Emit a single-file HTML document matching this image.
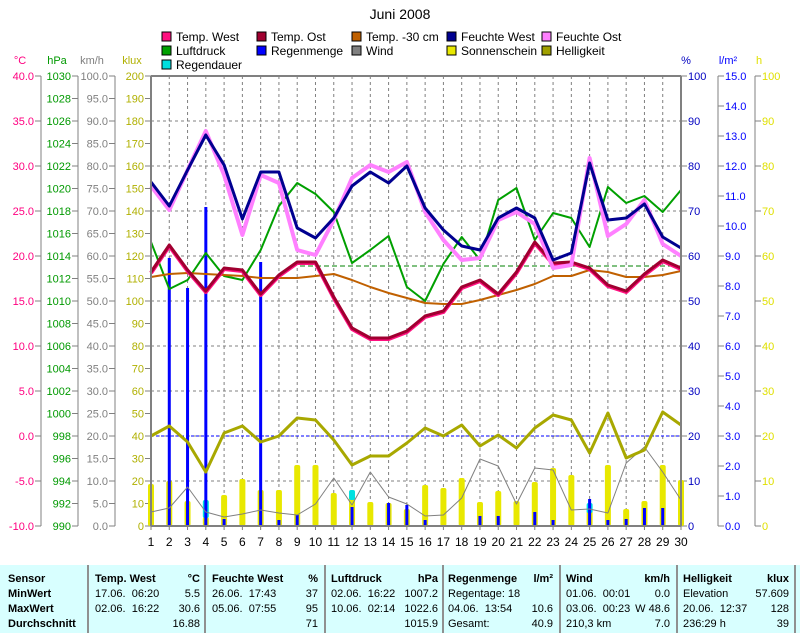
<!DOCTYPE html>
<html><head><meta charset="utf-8">
<style>
html,body{margin:0;padding:0;background:#fff;}
svg{display:block;font-family:"Liberation Sans",Arial,sans-serif;}
</style></head><body>
<svg id="s" width="800" height="633" xmlns="http://www.w3.org/2000/svg"></svg>
<script>
const S=document.getElementById('s');let h='';
const X0=151,DX=530/29,T=76,B=526;
const dx=d=>X0+(d-1)*DX;
function t(x,y,s,c,a,sz,w){h+=`<text x="${x}" y="${y}" fill="${c||'#000'}" font-size="${sz||12}" text-anchor="${a||'start'}"${w?' font-weight="bold"':''}>${s}</text>`;}
function l(x1,y1,x2,y2,c,w,da){h+=`<line x1="${x1}" y1="${y1}" x2="${x2}" y2="${y2}" stroke="${c}" stroke-width="${w||1}"${da?` stroke-dasharray="${da}"`:''}/>`;}
function pl(a,c,w){h+=`<polyline fill="none" stroke="${c}" stroke-width="${w}" stroke-linejoin="round" points="${a.map((y,i)=>dx(i+1).toFixed(1)+','+y).join(' ')}"/>`;}
// title
t(400,19,'Juni 2008','#000','middle',14);
// legend
const lg=[[162,37,'Temp. West','#ff1080'],[257,37,'Temp. Ost','#a00030'],[352,37,'Temp. -30 cm','#c06000'],[447,37,'Feuchte West','#000090'],[542,37,'Feuchte Ost','#ff80ff'],
[162,51,'Luftdruck','#00a000'],[257,51,'Regenmenge','#0000ff'],[352,51,'Wind','#808080'],[447,51,'Sonnenschein','#e8e800'],[542,51,'Helligkeit','#a0a000'],[162,65,'Regendauer','#00e0e0']];
lg.forEach(g=>{h+=`<rect x="${g[0]}" y="${g[1]-5}" width="9" height="9" fill="${g[3]}" stroke="#000" stroke-width="1"/>`;t(g[0]+14,g[1]+4,g[2]);});
// grid
for(let d=2;d<=29;d++)l(dx(d),T,dx(d),B,'#808080',1,'3,3');
for(let k=1;k<10;k++)l(X0,T+45*k,681,T+45*k,'#808080',1,'3,3');
l(X0,436,681,436,'#0000ff',1,'3,2');
l(300,266,681,266,'#008000',1,'5,3');
// axes left
const ax=[[41,'°C',20,'#ff0080',11,k=>(40-5*k).toFixed(1),45],[78,'hPa',57,'#009900',21,k=>1030-2*k,22.5],[115,'km/h',92,'#808080',21,k=>(100-5*k).toFixed(1),22.5],[151,'klux',132,'#b0b000',21,k=>200-10*k,22.5]];
ax.forEach(a=>{l(a[0],T,a[0],B,'#808080',1);t(a[2],64,a[1],a[3],'middle',11);for(let k=0;k<a[4];k++){const y=T+k*a[6];l(a[0]-6,y,a[0]+ (a[0]==151?0:0),y,'#808080',1);t(a[0]-7,y+4,a[5](k),a[3],'end',11);}});
// right axes
const ar=[[681,'%',686,'#0000c0',11,k=>100-10*k,45],[718,'l/m²',728,'#0000ff',16,k=>(15-k).toFixed(1),30],[755,'h',759,'#e0e000',11,k=>100-10*k,45]];
ar.forEach(a=>{l(a[0],T,a[0],B,'#808080',1);t(a[2],64,a[1],a[3],'middle',11);for(let k=0;k<a[4];k++){const y=T+k*a[6];l(a[0],y,a[0]+6,y,'#808080',1);t(a[0]+7,y+4,a[5](k),a[3],'start',11);}});
// sunshine bars
const sun=[484,481,501,517,495,479,490,490,465,465,493,495,502,503,509,485,488,478,502,491,501,482,468,475,510,465,509,501,465,480];
sun.forEach((y,i)=>{h+=`<rect x="${dx(i+1)-3}" y="${y}" width="6" height="${B-y}" rx="2" fill="#e8e800"/>`;});
// regendauer
[[4,500,518],[12,490,500],[25,503,513]].forEach(r=>{h+=`<rect x="${dx(r[0])-3}" y="${r[1]}" width="6" height="${r[2]-r[1]}" rx="2" fill="#00e0e0"/>`;});
// rain
const rain={2:258,3:288,4:207,7:262,5:519,8:520,9:515,12:507,14:503,15:505,16:520,19:516,20:516,22:512,23:520,25:499,26:520,27:519,28:508,29:508};
for(const d in rain){h+=`<rect x="${dx(+d)-1.5}" y="${rain[d]}" width="3" height="${B-rain[d]}" fill="#0000ff"/>`;}
// wind
pl([512,508,487,512,517,514,510,513,515,504,478,505,472,497,504,516,515,498,459,466,504,468,470,510,509,513,463,447,472,500],'#808080',1);
// helligkeit
pl([436,426,442,472,433,426,442,436,418,420,440,465,456,456,443,428,436,425,446,435,448,428,415,420,453,413,458,450,412,425],'#a8a800',3);
// luftdruck
pl([242,289,280,253,276,280,250,206,183,194,212,263,250,236,287,301,264,237,260,200,188,240,213,218,247,187,203,196,212,190],'#00a000',2);
// temp -30
pl([277,274,273,274,275,276,278,278,278,276,274,280,287,293,298,303,304,304,300,295,290,284,276,276,270,272,277,277,275,271],'#c06000',2);
// temps
const tw=[272,245,270,291,268,270,294,275,262,262,297,328,338,338,331,316,311,287,280,294,272,242,263,262,268,285,291,274,260,268];
pl(tw.map(v=>v+1),'#ff1080',4);pl(tw,'#a00030',3);
// humidity
pl([186,210,170,131,175,235,175,183,250,255,220,178,165,172,162,212,240,260,258,220,212,224,268,265,158,236,224,200,244,256],'#ff80ff',4);
pl([182,206,170,135,165,219,172,172,228,238,218,186,172,183,166,208,230,246,250,218,208,218,260,253,163,220,218,204,237,248],'#000090',3);
// frame
l(X0,T,681,T,'#808080',2);l(X0,T,X0,B,'#808080',2);l(681,T,681,B,'#808080',2);l(X0,B,681,B,'#808080',2);
for(let d=1;d<=30;d++){l(dx(d),B,dx(d),B+4,'#808080',1);t(dx(d),546,d,'#000','middle',12);}
// table
h+=`<rect x="0" y="565" width="800" height="68" fill="#d8ffff"/>`;
[88,205,325,443,560,677,795].forEach(x=>l(x,565,x,633,'#909090',2));
const ry=[582,597,612,627];
['Sensor','MinWert','MaxWert','Durchschnitt'].forEach((s,i)=>t(8,ry[i],s,'#000','start',11,true));
const cols=[[95,200,'Temp. West','°C',[['17.06.  06:20','5.5'],['02.06.  16:22','30.6'],['','16.88']]],
[212,318,'Feuchte West','%',[['26.06.  17:43','37'],['05.06.  07:55','95'],['','71']]],
[331,438,'Luftdruck','hPa',[['02.06.  16:22','1007.2'],['10.06.  02:14','1022.6'],['','1015.9']]],
[448,553,'Regenmenge','l/m²',[['Regentage: 18',''],['04.06.  13:54','10.6'],['Gesamt:','40.9']]],
[566,670,'Wind','km/h',[['01.06.  00:01','0.0'],['03.06.  00:23','W 48.6'],['210,3 km','7.0']]],
[683,789,'Helligkeit','klux',[['Elevation','57.609'],['20.06.  12:37','128'],['236:29 h','39']]]];
cols.forEach(c=>{t(c[0],ry[0],c[2],'#000','start',11,true);t(c[1],ry[0],c[3],'#000','end',11,true);
c[4].forEach((r,i)=>{h+=`<text x="${c[0]}" y="${ry[i+1]}" font-size="11" xml:space="preserve">${r[0]}</text>`;t(c[1],ry[i+1],r[1],'#000','end',11);});});
S.innerHTML=h;
</script>
</body></html>
